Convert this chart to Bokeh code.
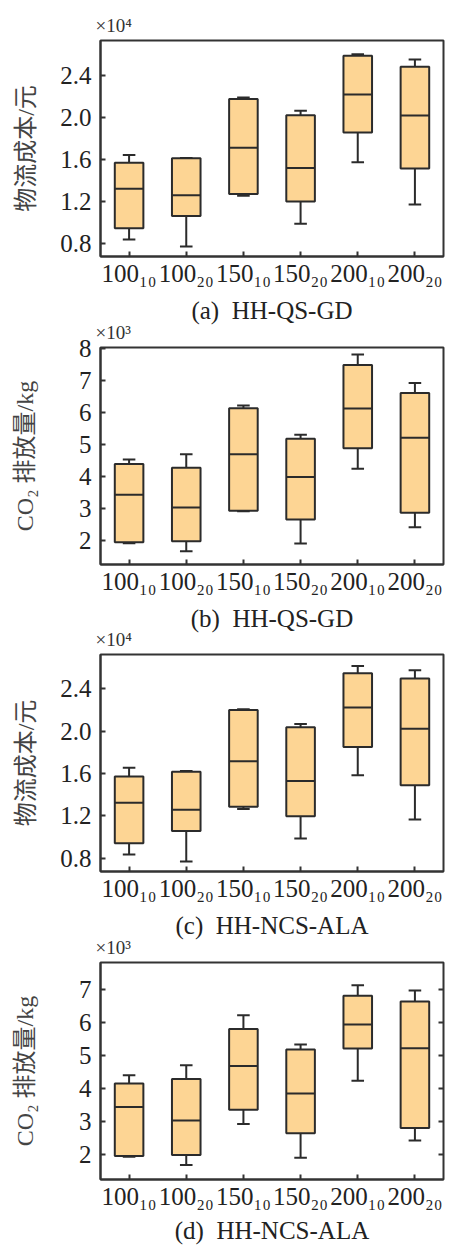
import numpy as np
from bokeh.plotting import figure
from bokeh.layouts import column
from bokeh.models import Range1d, FixedTicker, NumeralTickFormatter, LinearAxis, Title
from bokeh.embed import file_html
from bokeh.resources import INLINE

cats = ["100₁₀", "100₂₀", "150₁₀", "150₂₀", "200₁₀", "200₂₀"]

# Panel (a): logistics cost, x10^4 yuan, HH-QS-GD
lo_a = [0.840, 0.775, 1.259, 0.992, 1.578, 1.175]
q1_a = [0.949, 1.064, 1.274, 1.203, 1.860, 1.519]
med_a = [1.324, 1.262, 1.715, 1.522, 2.223, 2.022]
q3_a = [1.572, 1.615, 2.180, 2.025, 2.592, 2.487]
hi_a = [1.647, 1.619, 2.195, 2.068, 2.608, 2.558]

# Panel (b): CO2 emission, x10^3 kg, HH-QS-GD
lo_b = [1.91, 1.66, 2.91, 1.90, 4.24, 2.41]
q1_b = [1.94, 1.97, 2.93, 2.65, 4.88, 2.86]
med_b = [3.43, 3.03, 4.69, 3.98, 6.12, 5.21]
q3_b = [4.39, 4.27, 6.13, 5.18, 7.48, 6.61]
hi_b = [4.53, 4.69, 6.22, 5.30, 7.81, 6.92]

# Panel (c): logistics cost, x10^4 yuan, HH-NCS-ALA
lo_c = [0.834, 0.769, 1.265, 0.985, 1.585, 1.166]
q1_c = [0.942, 1.058, 1.286, 1.197, 1.852, 1.489]
med_c = [1.323, 1.258, 1.717, 1.529, 2.225, 2.025]
q3_c = [1.572, 1.618, 2.200, 2.037, 2.548, 2.498]
hi_c = [1.655, 1.625, 2.209, 2.068, 2.618, 2.578]

# Panel (d): CO2 emission, x10^3 kg, HH-NCS-ALA
lo_d = [1.92, 1.67, 2.91, 1.89, 4.22, 2.41]
q1_d = [1.94, 1.97, 3.34, 2.63, 5.20, 2.79]
med_d = [3.43, 3.02, 4.67, 3.84, 5.93, 5.21]
q3_d = [4.14, 4.28, 5.79, 5.17, 6.80, 6.63]
hi_d = [4.39, 4.69, 6.21, 5.32, 7.12, 6.96]

ticks_cost = [0.8, 1.2, 1.6, 2.0, 2.4]
ticks_co2_b = [2, 3, 4, 5, 6, 7, 8]
ticks_co2_d = [2, 3, 4, 5, 6, 7]

FILL = "#FDD594"
EDGE = "#2b2b2b"
SERIF = "Liberation Serif"


def panel(lo, q1, med, q3, hi, yr, yticks, yfmt, ylabel, ylab_standoff,
          mult, caption, height, bottom_border, cap_standoff, margin_top,
          right_ticks=False):
    x = np.arange(len(cats)) + 0.5
    p = figure(width=441, height=height, output_backend="svg", toolbar_location=None,
               x_range=Range1d(0, len(cats)), y_range=Range1d(*yr),
               min_border_left=87, min_border_right=6, min_border_top=31,
               min_border_bottom=bottom_border)
    p.margin = (margin_top, 0, 0, 8)
    p.title = Title(text=mult, text_font=SERIF, text_font_size="19px",
                    text_font_style="normal", text_color="#333333", align="left",
                    offset=-5, standoff=9)
    p.grid.visible = False
    p.outline_line_color = "#333333"
    p.outline_line_width = 2
    p.background_fill_color = "white"
    p.border_fill_color = None

    cap = 0.11
    p.segment(x0=x, x1=x, y0=q3, y1=hi, line_color=EDGE, line_width=2)
    p.segment(x0=x, x1=x, y0=q1, y1=lo, line_color=EDGE, line_width=2)
    p.segment(x0=x - cap, x1=x + cap, y0=hi, y1=hi, line_color=EDGE, line_width=2)
    p.segment(x0=x - cap, x1=x + cap, y0=lo, y1=lo, line_color=EDGE, line_width=2)
    p.vbar(x=x, width=0.5, top=q3, bottom=q1, fill_color=FILL,
           line_color=EDGE, line_width=2)
    p.segment(x0=x - 0.25, x1=x + 0.25, y0=med, y1=med, line_color=EDGE, line_width=2)

    xa = p.xaxis[0]
    xa.ticker = FixedTicker(ticks=list(x))
    xa.major_label_overrides = {float(v): c for v, c in zip(x, cats)}
    xa.major_tick_in = 5
    xa.major_tick_out = 0
    xa.minor_tick_line_color = None
    xa.major_tick_line_width = 2
    xa.major_tick_line_color = "#333333"
    xa.axis_line_width = 2
    xa.axis_line_color = "#333333"
    xa.major_label_standoff = 3
    xa.major_label_text_font = SERIF
    xa.major_label_text_font_size = "25px"
    xa.major_label_text_color = "#222222"
    xa.axis_label = caption
    xa.axis_label_text_font = SERIF
    xa.axis_label_text_font_size = "25px"
    xa.axis_label_text_font_style = "normal"
    xa.axis_label_text_color = "#222222"
    xa.axis_label_standoff = cap_standoff

    ya = p.yaxis[0]
    ya.ticker = FixedTicker(ticks=yticks)
    ya.formatter = NumeralTickFormatter(format=yfmt)
    ya.major_tick_in = 5
    ya.major_tick_out = 0
    ya.minor_tick_line_color = None
    ya.major_tick_line_width = 2
    ya.major_tick_line_color = "#333333"
    ya.axis_line_width = 2
    ya.axis_line_color = "#333333"
    ya.major_label_standoff = 9
    ya.major_label_text_font = SERIF
    ya.major_label_text_font_size = "25px"
    ya.major_label_text_color = "#222222"
    ya.axis_label = ylabel
    ya.axis_label_text_font = "Liberation Serif, Noto Sans CJK SC"
    ya.axis_label_text_font_size = "24px"
    ya.axis_label_text_font_style = "normal"
    ya.axis_label_text_color = "#444444"
    ya.axis_label_standoff = ylab_standoff

    if right_ticks:
        ra = LinearAxis(ticker=FixedTicker(ticks=yticks), major_tick_in=5, major_tick_out=0,
                        minor_tick_line_color=None,
                        major_label_overrides={float(t): "" for t in yticks},
                        major_label_standoff=0, axis_line_color=None,
                        major_tick_line_width=2, major_tick_line_color="#333333")
        p.add_layout(ra, "right")
    return p


cost_label = "物流成本/元"
co2_label = "CO₂ 排放量/kg"
NB = "\u00a0\u00a0"

pa = panel(lo_a, q1_a, med_a, q3_a, hi_a, (0.679, 2.738), ticks_cost, "0.0",
           cost_label, 18, "×10⁴", "(a)" + NB + "HH-QS-GD", 318, 66, 7, 8)
pb = panel(lo_b, q1_b, med_b, q3_b, hi_b, (1.246, 8.03), ticks_co2_b, "0",
           co2_label, 38, "×10³", "(b)" + NB + "HH-QS-GD", 319, 66, 7, -11)
pc = panel(lo_c, q1_c, med_c, q3_c, hi_c, (0.674, 2.726), ticks_cost, "0.0",
           cost_label, 18, "×10⁴", "(c)" + NB + "HH-NCS-ALA", 319, 66, 7, -12)
pd = panel(lo_d, q1_d, med_d, q3_d, hi_d, (1.228, 7.81), ticks_co2_d, "0",
           co2_label, 38, "×10³", "(d)" + NB + "HH-NCS-ALA", 316, 63, 4, -11,
           right_ticks=True)

layout = column(pa, pb, pc, pd, spacing=0)
open("out.html", "w").write(file_html(layout, INLINE))
